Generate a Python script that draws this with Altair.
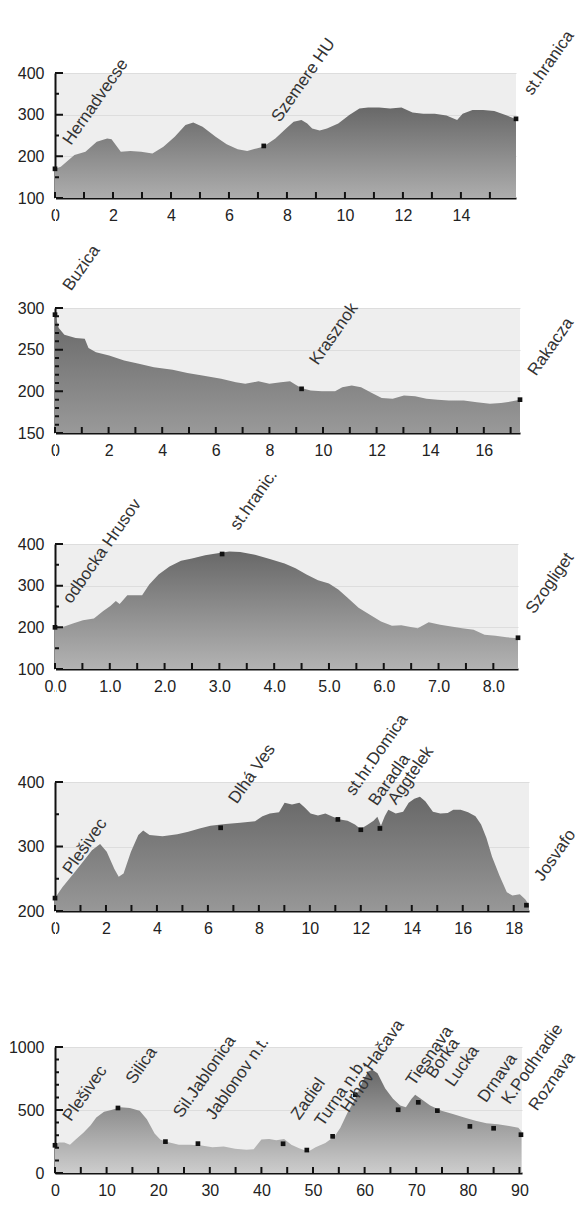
import altair as alt
import pandas as pd

FONT = "Liberation Sans"

# ---------------- Panel 1 ----------------
p1_km = [0, 0.2, 0.67, 1.05, 1.44, 1.8, 1.95, 2.27, 2.6, 2.97, 3.36, 3.74, 4.13, 4.5, 4.77, 5.09, 5.54,
         5.92, 6.3, 6.63, 6.95, 7.18, 7.6, 7.97, 8.23, 8.5, 8.7, 8.87, 9.13, 9.38, 9.77, 10.15, 10.5,
         10.8, 11.18, 11.56, 11.95, 12.33, 12.7, 13.1, 13.5, 13.87, 14.06, 14.4, 14.77, 15.15, 15.54, 15.9]
p1_elev = [170, 175, 203, 211, 235, 243, 241, 211, 213, 211, 207, 223, 247, 275, 281, 271, 247,
           229, 217, 213, 219, 223, 243, 267, 283, 287, 279, 267, 262, 267, 279, 299, 315,
           317, 317, 315, 317, 305, 302, 302, 298, 287, 302, 311, 311, 309, 299, 289]
p1_pt_km = [0, 7.2, 15.9]
p1_pt_elev = [170, 225, 290]
p1_pt_name = ["Hernadvecse", "Szemere HU", "st.hranica"]
p1_xlabels = [0, 2, 4, 6, 8, 10, 12, 14]
p1_xticks = list(range(0, 16))
p1_ylabels = [100, 200, 300, 400]
p1_yminor = [150, 250, 350]

# ---------------- Panel 2 ----------------
p2_km = [0, 0.14, 0.35, 0.77, 1.11, 1.25, 1.53, 2.02, 2.58, 3.13, 3.69, 4.39, 4.94, 5.5, 6.2, 6.75,
         7.1, 7.59, 8.0, 8.43, 8.77, 8.98, 9.19, 9.54, 9.96, 10.45, 10.72, 11.07, 11.42, 11.77, 12.19,
         12.6, 13.02, 13.44, 13.86, 14.28, 14.69, 15.25, 15.74, 16.23, 16.64, 17.06, 17.35]
p2_elev = [292, 276, 268, 264, 263, 252, 247, 243, 237, 233, 229, 226, 222, 219, 215, 211,
           209, 212, 209, 211, 212, 208, 204, 201, 200, 200, 205, 207, 205, 199, 192,
           191, 195, 194, 191, 190, 189, 189, 187, 185, 186, 188, 190]
p2_pt_km = [0, 9.2, 17.35]
p2_pt_elev = [292, 203, 190]
p2_pt_name = ["Buzica", "Krasznok", "Rakacza"]
p2_xlabels = [0, 2, 4, 6, 8, 10, 12, 14, 16]
p2_xticks = list(range(0, 18))
p2_ylabels = [150, 200, 250, 300]
p2_yminor = [160, 170, 180, 190, 210, 220, 230, 240, 260, 270, 280, 290]

# ---------------- Panel 3 ----------------
p3_km = [0, 0.17, 0.34, 0.51, 0.71, 0.88, 1.01, 1.11, 1.18, 1.32, 1.45, 1.59, 1.72, 1.89, 2.09, 2.3,
         2.5, 2.74, 2.94, 3.18, 3.38, 3.65, 3.92, 4.19, 4.39, 4.59, 4.8, 5.0, 5.17, 5.34, 5.54, 5.74,
         5.95, 6.15, 6.32, 6.49, 6.62, 6.82, 7.03, 7.23, 7.43, 7.64, 7.84, 8.04, 8.24, 8.45]
p3_elev = [198, 202, 210, 217, 221, 239, 251, 263, 256, 277, 277, 277, 303, 327, 346, 360,
           365, 373, 377, 382, 381, 374, 364, 353, 342, 327, 313, 305, 291, 271, 247, 231,
           214, 204, 205, 201, 198, 212, 206, 202, 198, 194, 182, 180, 176, 174]
p3_pt_km = [0, 3.05, 8.45]
p3_pt_elev = [200, 376, 175]
p3_pt_name = ["odbocka Hrusov", "st.hranic.", "Szogliget"]
p3_xlabels = [0, 1, 2, 3, 4, 5, 6, 7, 8]
p3_xticks = [0, 0.5, 1, 1.5, 2, 2.5, 3, 3.5, 4, 4.5, 5, 5.5, 6, 6.5, 7, 7.5, 8]
p3_ylabels = [100, 200, 300, 400]
p3_yminor = [150, 250, 350]

# ---------------- Panel 4 ----------------
p4_km = [0, 0.29, 0.73, 1.09, 1.45, 1.77, 2.03, 2.33, 2.5, 2.69, 2.98, 3.27, 3.46, 3.71, 4.22, 4.8,
         5.23, 5.67, 6.1, 6.69, 7.27, 7.85, 8.14, 8.43, 8.79, 9.01, 9.3, 9.59, 9.81, 10.03, 10.32,
         10.61, 10.9, 11.19, 11.48, 11.77, 11.99, 12.28, 12.5, 12.65, 12.79, 12.94, 13.08, 13.37,
         13.66, 13.88, 14.1, 14.32, 14.53, 14.83, 15.12, 15.41, 15.63, 15.92, 16.21, 16.5, 16.72,
         16.93, 17.15, 17.44, 17.73, 17.95, 18.24, 18.46, 18.6]
p4_elev = [220, 237, 258, 276, 294, 304, 292, 265, 253, 258, 292, 318, 325, 318, 316, 319,
           323, 328, 332, 335, 337, 339, 347, 351, 353, 368, 365, 368, 360, 351, 348,
           351, 346, 342, 340, 334, 327, 334, 340, 346, 332, 347, 357, 351,
           354, 368, 374, 377, 370, 354, 351, 352, 357, 357, 353, 347, 334,
           313, 284, 255, 229, 224, 226, 218, 209]
p4_pt_km = [0, 6.5, 11.1, 12.0, 12.75, 18.5]
p4_pt_elev = [220, 329, 342, 326, 328, 209]
p4_pt_name = ["Plešivec", "Dlhá Ves", "st.hr.Domica", "Baradla", "Aggtelek", "Josvafo"]
p4_xlabels = [0, 2, 4, 6, 8, 10, 12, 14, 16, 18]
p4_xticks = list(range(0, 19))
p4_ylabels = [200, 300, 400]
p4_yminor = [250, 350]

# ---------------- Panel 5 ----------------
p5_km = [0, 0.7, 1.8, 2.9, 4.0, 5.5, 6.9, 8.0, 9.5, 10.9, 12.7, 14.5, 16.4, 17.8, 19.3, 20.4, 21.8,
         24.0, 26.2, 28.4, 30.5, 32.7, 34.9, 37.1, 38.5, 40.0, 41.5, 42.9, 44.4, 45.8, 47.3, 49.1,
         50.5, 52.4, 54.2, 55.3, 56.7, 58.2, 59.6, 60.7, 61.5, 62.5, 64.0, 65.5, 66.9, 68.0, 69.1,
         69.8, 70.9, 72.7, 74.9, 77.1, 79.3, 81.5, 83.6, 85.8, 88.0, 89.8, 90.4]
p5_elev = [219, 243, 243, 224, 265, 319, 378, 441, 487, 500, 522, 516, 495, 427, 314, 265, 246,
           224, 224, 219, 205, 211, 192, 184, 189, 265, 270, 259, 270, 224, 197, 170,
           205, 238, 292, 360, 481, 589, 724, 805, 819, 792, 670, 589, 535, 522, 589,
           622, 589, 535, 495, 468, 441, 414, 395, 387, 373, 360, 330]
p5_pt_km = [0, 12.2, 21.4, 27.7, 44.2, 48.8, 53.8, 58.2, 66.5, 70.4, 74.1, 80.4, 85.0, 90.3]
p5_pt_elev = [220, 516, 249, 233, 232, 182, 291, 621, 502, 561, 495, 370, 355, 304]
p5_pt_name = ["Plešivec", "Silica", "Sil.Jablonica", "Jablonov n.t.", "Zadiel", "Turna n.b.",
              "Hrhov", "Hačava", "Tiesnava", "Borka", "Lucka", "Drnava", "K.Podhradie", "Roznava"]
p5_xlabels = [0, 10, 20, 30, 40, 50, 60, 70, 80, 90]
p5_xticks = list(range(0, 95, 5))
p5_ylabels = [0, 500, 1000]
p5_yminor = [100, 200, 300, 400, 600, 700, 800, 900]

grad = alt.Gradient(
    gradient="linear",
    stops=[alt.GradientStop(color="#686868", offset=0),
           alt.GradientStop(color="#cdcdcd", offset=1)],
    x1=0, x2=0, y1=0, y2=1,
)


def panel(km, elev, pk, pe, pn, xdom, ydom, xlab, xtick, ylab, ymin, xfmt, w, h):
    prof = pd.DataFrame({"km": km, "elev": elev})
    pts = pd.DataFrame({"km": pk, "elev": pe, "name": pn})
    xs = alt.Scale(domain=xdom, nice=False, zero=False)
    ys = alt.Scale(domain=ydom, nice=False, zero=False)
    xax = alt.Axis(values=xlab, format=xfmt, ticks=False, grid=False, domainColor="#111",
                   domainWidth=2, labelFontSize=16, labelPadding=9, labelColor="#222",
                   labelFlush=False, title=None)
    yax = alt.Axis(values=ylab, format="d", ticks=False, grid=True, gridColor="#dddddd",
                   gridWidth=1, domainColor="#111", domainWidth=2, labelFontSize=16,
                   labelPadding=11, labelColor="#222", labelFlush=False, title=None)
    X = alt.X("km:Q", scale=xs, axis=xax)
    Y = alt.Y("elev:Q", scale=ys, axis=yax)

    xt_df = pd.DataFrame({"km": xtick, "elev": [ydom[0]] * len(xtick)})
    yt_all = list(ylab) + list(ymin)
    yt_df = pd.DataFrame({"km": [xdom[0]] * len(yt_all), "elev": yt_all})
    ytM_df = pd.DataFrame({"km": [xdom[0]] * len(ylab), "elev": ylab})

    layers = [alt.Chart(prof).mark_area(color=grad, clip=True).encode(x=X, y=Y)]
    # inward ticks built from small 2x2 squares stacked along the tick direction
    for off in (-1, -3, -5):
        layers.append(alt.Chart(xt_df).mark_square(size=4, color="#111", opacity=1, yOffset=off)
                      .encode(x=X, y=Y))
    for off in (1, 3):
        layers.append(alt.Chart(yt_df).mark_square(size=4, color="#111", opacity=1, xOffset=off)
                      .encode(x=X, y=Y))
    for off in (5, 7):
        layers.append(alt.Chart(ytM_df).mark_square(size=4, color="#111", opacity=1, xOffset=off)
                      .encode(x=X, y=Y))
    layers.append(alt.Chart(pts).mark_square(size=22, color="#111", opacity=1).encode(x=X, y=Y))
    layers.append(alt.Chart(pts).mark_text(
        align="left", baseline="alphabetic", angle=305, dx=28, dy=0,
        fontSize=17, font=FONT, color="#333"
    ).encode(x=X, y=Y, text="name:N"))
    return alt.layer(*layers).properties(
        width=w, height=h,
        view=alt.ViewBackground(fill="#eeeeee", strokeWidth=0),
    )


def spacer(h):
    return alt.Chart(pd.DataFrame({"s": [0]})).mark_point(opacity=0).encode(
        x=alt.X("s:Q", axis=None), y=alt.Y("s:Q", axis=None)
    ).properties(width=1, height=h, view=alt.ViewBackground(fill="white", strokeWidth=0))


c1 = panel(p1_km, p1_elev, p1_pt_km, p1_pt_elev, p1_pt_name, [0, 15.9], [100, 400],
           p1_xlabels, p1_xticks, p1_ylabels, p1_yminor, "d", 461, 125)
c2 = panel(p2_km, p2_elev, p2_pt_km, p2_pt_elev, p2_pt_name, [0, 17.35], [150, 300],
           p2_xlabels, p2_xticks, p2_ylabels, p2_yminor, "d", 465, 125)
c3 = panel(p3_km, p3_elev, p3_pt_km, p3_pt_elev, p3_pt_name, [0, 8.45], [100, 400],
           p3_xlabels, p3_xticks, p3_ylabels, p3_yminor, ".1f", 463, 125)
c4 = panel(p4_km, p4_elev, p4_pt_km, p4_pt_elev, p4_pt_name, [0, 18.6], [200, 400],
           p4_xlabels, p4_xticks, p4_ylabels, p4_yminor, "d", 474, 129)
c5 = panel(p5_km, p5_elev, p5_pt_km, p5_pt_elev, p5_pt_name, [0, 90.5], [0, 1000],
           p5_xlabels, p5_xticks, p5_ylabels, p5_yminor, "d", 467, 126)

chart = alt.vconcat(
    c1, spacer(110), c2, spacer(111), c3, spacer(113), c4, spacer(136), c5,
    spacing=0, bounds="flush",
).properties(
    padding={"left": 0, "top": 19, "right": 0, "bottom": 0},
    background="white",
).configure_view(strokeWidth=0).configure_axis(labelFont=FONT)

chart.save("out.html", embed_options={"renderer": "svg", "actions": False})
